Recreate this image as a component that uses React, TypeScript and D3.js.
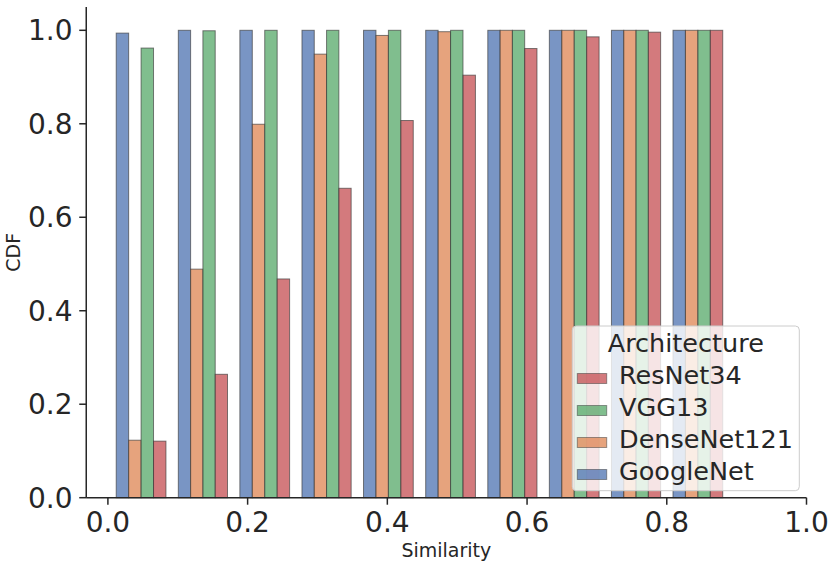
import React from "react";
import * as d3 from "d3";

// ---- data ----
const binEdges = [0.003, 0.092, 0.180, 0.269, 0.357, 0.446, 0.535, 0.623, 0.712, 0.800, 0.889];
const seriesOrder = ["GoogleNet", "DenseNet121", "VGG13", "ResNet34"];
const legendOrder = ["ResNet34", "VGG13", "DenseNet121", "GoogleNet"];
const googleNet = [0.994, 1, 1, 1, 1, 1, 1, 1, 1, 1];
const denseNet121 = [0.123, 0.489, 0.799, 0.949, 0.989, 0.997, 1, 1, 1, 1];
const vgg13 = [0.962, 0.999, 1, 1, 1, 1, 1, 1, 1, 1];
const resNet34 = [0.121, 0.264, 0.468, 0.662, 0.807, 0.904, 0.961, 0.986, 0.996, 1];
const xTicks = [0.0, 0.2, 0.4, 0.6, 0.8, 1.0];
const yTicks = [0.0, 0.2, 0.4, 0.6, 0.8, 1.0];

const values: Record<string, number[]> = {
  GoogleNet: googleNet,
  DenseNet121: denseNet121,
  VGG13: vgg13,
  ResNet34: resNet34,
};
const colors: Record<string, string> = {
  GoogleNet: "#4C72B0",
  DenseNet121: "#DD8452",
  VGG13: "#55A868",
  ResNet34: "#C44E52",
};

const W = 830;
const H = 565;
const FONT = "DejaVu Sans, sans-serif";
const INK = "#262626";

export default function App() {
  const x = d3.scaleLinear().domain([0, 1]).range([107.9, 806.5]);
  const y = d3.scaleLinear().domain([0, 1]).range([497.7, 30.3]);
  const xLeft = x(-0.031);
  const yTop = y(1.05);
  const shrink = 0.8;
  const nS = seriesOrder.length;

  const bars: React.ReactNode[] = [];
  for (let i = 0; i < binEdges.length - 1; i++) {
    const b0 = binEdges[i];
    const bw = binEdges[i + 1] - b0;
    const sub = (bw * shrink) / nS;
    const start = b0 + (bw * (1 - shrink)) / 2;
    seriesOrder.forEach((s, j) => {
      const v = values[s][i];
      const x0 = x(start + j * sub);
      const x1 = x(start + (j + 1) * sub);
      bars.push(
        <rect
          key={`${s}-${i}`}
          x={x0}
          y={y(v)}
          width={x1 - x0}
          height={y(0) - y(v)}
          fill={colors[s]}
          fillOpacity={0.75}
          stroke="#3a3a3a"
          strokeOpacity={0.65}
          strokeWidth={1}
        />
      );
    });
  }

  const lgX = 572.3;
  const lgY = 326;
  const lgW = 227;
  const lgH = 164.7;

  return (
    <svg
      width={W}
      height={H}
      style={{ position: "absolute", left: 0, top: 0, background: "#fff" }}
      fontFamily={FONT}
    >
      <rect x={0} y={0} width={W} height={H} fill="#fff" />
      {bars}

      {/* spines */}
      <line x1={xLeft} x2={x(1)} y1={y(0)} y2={y(0)} stroke={INK} strokeWidth={1.5} />
      <line x1={xLeft} x2={xLeft} y1={y(0)} y2={yTop} stroke={INK} strokeWidth={1.5} />

      {/* x ticks */}
      {xTicks.map((t) => (
        <g key={`xt${t}`}>
          <line x1={x(t)} x2={x(t)} y1={y(0)} y2={y(0) + 7} stroke={INK} strokeWidth={1.5} />
          <text x={x(t)} y={532} textAnchor="middle" fontSize={28} fill={INK}>
            {d3.format(".1f")(t)}
          </text>
        </g>
      ))}
      {/* y ticks */}
      {yTicks.map((t) => (
        <g key={`yt${t}`}>
          <line x1={xLeft - 7} x2={xLeft} y1={y(t)} y2={y(t)} stroke={INK} strokeWidth={1.5} />
          <text x={72.5} y={y(t)} dy="0.36em" textAnchor="end" fontSize={28} fill={INK}>
            {d3.format(".1f")(t)}
          </text>
        </g>
      ))}

      {/* axis labels */}
      <text x={(xLeft + x(1)) / 2} y={557} textAnchor="middle" fontSize={19} fill={INK}>
        Similarity
      </text>
      <text
        transform={`translate(20,${(y(0) + yTop) / 2}) rotate(-90)`}
        textAnchor="middle"
        fontSize={19}
        fill={INK}
      >
        CDF
      </text>

      {/* legend */}
      <rect
        x={lgX}
        y={lgY}
        width={lgW}
        height={lgH}
        rx={4}
        fill="#fff"
        fillOpacity={0.8}
        stroke="#cccccc"
        strokeWidth={1}
      />
      <text x={lgX + lgW / 2} y={352.3} textAnchor="middle" fontSize={25.5} fill={INK}>
        Architecture
      </text>
      {legendOrder.map((s, k) => {
        const base = 384 + k * 32;
        return (
          <g key={`lg${s}`}>
            <rect
              x={577.3}
              y={base - 10.5}
              width={29.4}
              height={10}
              fill={colors[s]}
              fillOpacity={0.75}
              stroke="#3a3a3a"
              strokeOpacity={0.5}
              strokeWidth={1}
            />
            <text x={619} y={base} fontSize={25.5} fill={INK}>
              {s}
            </text>
          </g>
        );
      })}
    </svg>
  );
}
